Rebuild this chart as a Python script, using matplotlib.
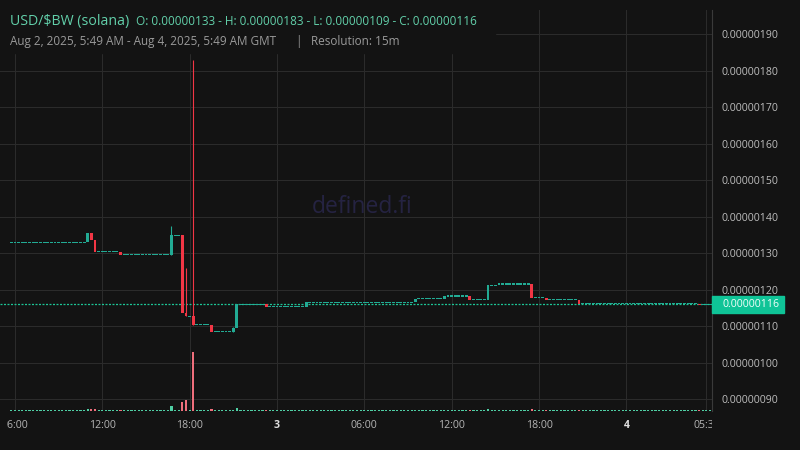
import matplotlib.pyplot as plt
import numpy as np
from matplotlib.patches import Rectangle
from matplotlib.transforms import Bbox, blended_transform_factory

plt.rcParams['font.family'] = ['Open Sans', 'DejaVu Sans']

# 15m candles, prices in units of 1e-8 USD, time in hours from Aug 2 00:00 GMT
first_time = 5.75
first_open = 133.0
# (close, number of candles) read left to right
close_runs = [(133.0, 21), (135.6, 1), (133.7, 1), (130.4, 7), (129.6, 14),
              (135.0, 3), (113.7, 1), (112.7, 2), (110.4, 5), (108.5, 6),
              (109.5, 1), (116.0, 8), (115.4, 11), (116.6, 30), (117.5, 8),
              (118.3, 7), (117.3, 5), (121.3, 3), (121.6, 9), (117.8, 4),
              (117.3, 9), (116.25, 33), (116.0, 4)]
wick_high_times = [16.75, 17.75, 18.25, 21.0]
wick_high_values = [137.5, 126.0, 183.0, 109.8]

base_volume = 1.0
volume_spike_times = [11.0, 11.25, 11.5, 13.25, 16.75, 17.5, 17.75, 18.25,
                      19.5, 21.25, 38.5, 41.5, 44.75]
volume_spike_values = [2.5, 1.7, 2.3, 0.8, 5.0, 9.0, 11.0, 59.0,
                       1.7, 3.5, 2.5, 2.5, 1.5]

last_price = 116.0
y_ticks = [90, 100, 110, 120, 130, 140, 150, 160, 170, 180, 190]
x_ticks = [6, 12, 18, 24, 30, 36, 42, 48, 53.5]
x_labels = ['06:00', '12:00', '18:00', '3', '06:00', '12:00', '18:00', '4', '05:30']

BG = '#131313'
UP = '#22ab94'
DOWN = '#f23645'
UP_VOL = '#4fcfa4'
DOWN_VOL = '#ef6f7c'
GRID = '#2b2b2b'

closes = np.repeat([c for c, n in close_runs], [n for c, n in close_runs])
times = first_time + 0.25 * np.arange(len(closes))
opens = np.r_[first_open, closes[:-1]]
highs = np.maximum(opens, closes)
lows = np.minimum(opens, closes)
for t, h in zip(wick_high_times, wick_high_values):
    highs[np.isclose(times, t)] = h
up = closes >= opens
colors = np.where(up, UP, DOWN)

volumes = np.full(len(closes), base_volume)
for t, v in zip(volume_spike_times, volume_spike_values):
    volumes[np.isclose(times, t)] = v

fig = plt.figure(figsize=(8, 4.5), dpi=100, facecolor=BG)
rect = [0, 39 / 450, 712 / 800, 401 / 450]
ax = fig.add_axes(rect)
ax.set_facecolor(BG)
ax.set_xlim(4.972, 53.886)
ax.set_ylim(86.8, 196.66)

# wicks
wick = highs > np.maximum(opens, closes)
ax.vlines(times[wick], lows[wick], highs[wick], colors=colors[wick], lw=0.8, zorder=3)
# bodies
body_h = np.maximum(np.abs(closes - opens), 0.3)
body_b = np.where(np.abs(closes - opens) < 0.3, closes - 0.15, lows)
ax.bar(times, body_h, bottom=body_b, width=0.2, color=colors, lw=0, zorder=3)

ax.axhline(last_price, color='#1cc596', lw=0.9, linestyle=(0, (1.6, 1.2)), zorder=2)

ax.set_yticks(y_ticks)
ax.set_yticklabels([f'{v * 1e-8:.8f}' for v in y_ticks])
ax.yaxis.tick_right()
ax.set_xticks(x_ticks)
ax.tick_params(axis='x', length=0, labelbottom=False)
ax.tick_params(axis='y', length=0, pad=7.2, labelsize=7.6, labelcolor='#bdbdbd')
ax.grid(True, color=GRID, lw=0.75)
for s in ['top', 'left', 'bottom']:
    ax.spines[s].set_visible(False)
ax.spines['right'].set_color('#3a3a3a')
ax.spines['right'].set_linewidth(0.8)

ax.text(0.508, 0.508, 'defined.fi', transform=ax.transAxes, ha='center', va='center',
        fontsize=16.5, color='#252342', zorder=1)

# x tick labels, clipped at the pane edges like the original
clip = Bbox.from_extents(7, 0, 712, 450)
xt = blended_transform_factory(ax.transData, ax.transAxes)
for t, lab in zip(x_ticks, x_labels):
    bold = lab in ('3', '4')
    txt = ax.text(t, -14 / 401, lab, transform=xt, ha='center', va='center',
                  fontsize=7.6, color='#e0e0e0' if bold else '#b5b5b5',
                  fontweight='bold' if bold else 'normal')
    txt.set_clip_on(True)
    txt.set_clip_box(clip)

# last price tag
pt = blended_transform_factory(ax.transAxes, ax.transData)
ax.add_patch(Rectangle((1.0, last_price - 2.3), 72 / 712, 4.6, transform=pt,
                       color='#0fc497', clip_on=False, zorder=5))
ax.text(1 + 10 / 712, last_price, f'{last_price * 1e-8:.8f}', transform=pt,
        ha='left', va='center', fontsize=7.6, color='#f2fffa', zorder=6)

# volume overlay
vax = fig.add_axes(rect, sharex=ax)
vax.patch.set_visible(False)
vax.axis('off')
vax.bar(times, volumes, width=0.15, color=np.where(up, UP_VOL, DOWN_VOL), lw=0)
vax.set_ylim(0, max(volumes) * 401 / 59)
vax.set_xlim(4.972, 53.886)

# legend header
fig.add_artist(Rectangle((0, 1 - 53 / 450), 495 / 800, 53 / 450,
                         transform=fig.transFigure, color=BG, zorder=1))
fig.text(10 / 800, 1 - 25 / 450, 'USD/$BW (solana)', fontsize=10.2,
         color='#62d0aa', va='baseline', zorder=2)
fig.text(136 / 800, 1 - 25 / 450,
         'O: 0.00000133 - H: 0.00000183 - L: 0.00000109 - C: 0.00000116',
         fontsize=8.5, color='#62d0aa', va='baseline', zorder=2)
fig.text(10 / 800, 1 - 45 / 450, 'Aug 2, 2025, 5:49 AM - Aug 4, 2025, 5:49 AM GMT',
         fontsize=8.5, color='#9a9a9a', va='baseline', zorder=2)
fig.text(298 / 800, 1 - 45 / 450, '|', fontsize=8.5, color='#9a9a9a',
         va='baseline', ha='center', zorder=2)
fig.text(311 / 800, 1 - 45 / 450, 'Resolution: 15m', fontsize=8.5,
         color='#9a9a9a', va='baseline', zorder=2)

fig.savefig('out.png', dpi=100, facecolor=BG)
